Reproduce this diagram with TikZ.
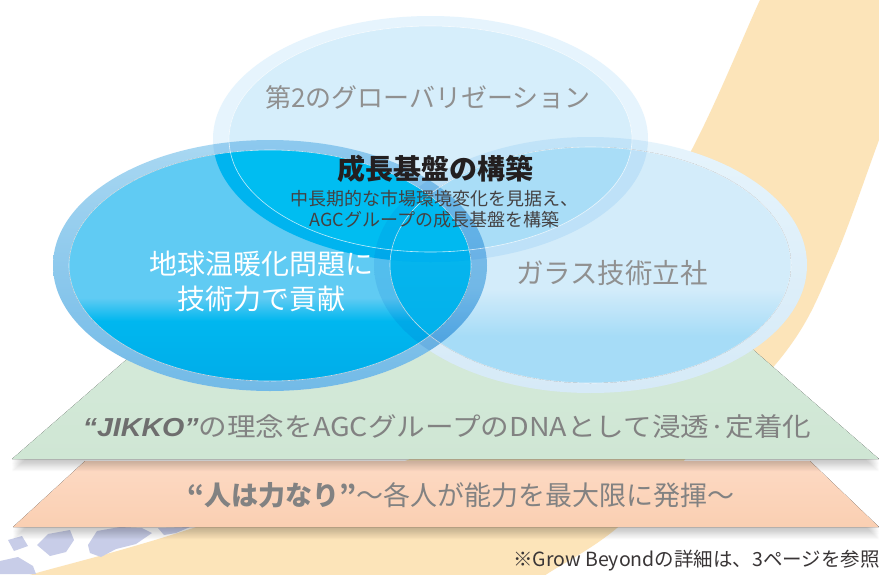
\documentclass[tikz,border=0pt]{standalone}
\usepackage{fontspec}
\usepackage{graphicx}
\newfontfamily\jp{Noto Sans CJK JP}
\newfontfamily\lat{Liberation Sans}
\usetikzlibrary{calc}

% palette
\definecolor{beige}{HTML}{FCE4B9}
\definecolor{mapblue}{HTML}{C8CDE8}
\definecolor{greenT}{HTML}{D6EBDB}
\definecolor{greenB}{HTML}{CFE6D4}
\definecolor{orangeT}{HTML}{FDDAC4}
\definecolor{orangeB}{HTML}{FACFB2}
\definecolor{topfill}{HTML}{D6EEFB}
\definecolor{topring}{HTML}{E6F4FD}
\definecolor{rT}{HTML}{D3ECFA}
\definecolor{rB}{HTML}{A6DCF7}
\definecolor{rringT}{HTML}{E6F4FC}
\definecolor{rringB}{HTML}{D6EAF7}
\definecolor{lT}{HTML}{60CBF3}
\definecolor{lM}{HTML}{00B7EF}
\definecolor{lB}{HTML}{00ADE9}
\definecolor{lringT}{HTML}{A9D8F2}
\definecolor{lringB}{HTML}{72BAE7}
\definecolor{tlcol}{HTML}{00BDF1}
\definecolor{trcol}{HTML}{A9DDF7}
\definecolor{lrT}{HTML}{0ABAF0}
\definecolor{lrB}{HTML}{00AFEA}
\definecolor{allcol}{HTML}{00B9F0}
\definecolor{softgray}{HTML}{909090}
\definecolor{basegray}{HTML}{828282}
\definecolor{inkdark}{HTML}{231F20}

% vertical shadings: light upper half, saturated lower half
\pgfdeclareverticalshading{leftshade}{100bp}{color(0bp)=(lB); color(25bp)=(lB); color(38bp)=(lM); color(43bp)=(lT); color(75bp)=(lT); color(100bp)=(lT)}
\pgfdeclareverticalshading{rightshade}{100bp}{color(0bp)=(rB); color(25bp)=(rB); color(35bp)=(rB); color(45bp)=(rT); color(75bp)=(rT); color(100bp)=(rT)}

\tikzset{
  ring/.style={even odd rule, blend mode=multiply},
  rimline/.style={draw=white, line width=0.6pt, opacity=0.75},
  layershadow/.style={fill=black, opacity=0.022},
  jptext/.style={inner sep=0pt, font=\jp},
}

\begin{document}
\begin{tikzpicture}[x=1pt,y=-1pt]
\useasboundingbox (0,0) rectangle (879,574);
\fill[white] (0,0) rectangle (879,574);

% ---- beige sweep in the background
\fill[beige] plot[smooth, tension=0.6] coordinates {(772,-20) (760,0) (690,153) (600,300) (450,440) (187,530) (33,574) (0,584)}
  -- (0,600) -- (500,600)
  -- plot[smooth, tension=0.6] coordinates {(520,592) (547,574) (617,528) (694,450) (787,350) (833,263) (879,140) (905,70)}
  -- (905,-20) -- cycle;

% ---- map fragments, bottom left
\fill[mapblue] (37,545) -- (48,534) -- (70,530) -- (74,540) -- (66,552) -- (50,556) -- cycle;
\fill[mapblue] (88,545) -- (97,531) -- (120,527) -- (142,528) -- (152,533) -- (136,544) -- (116,549) -- (101,557) -- (90,553) -- cycle;
\fill[mapblue] (158,528) -- (190,527) -- (176,533) -- (164,535) -- cycle;
\fill[mapblue] (0,561) -- (18,557) -- (33,566) -- (36,574) -- (0,574) -- cycle;
\fill[mapblue] (8,540) -- (22,536) -- (28,546) -- (14,551) -- cycle;

% ---- lower layer (orange) with its shadow
\coordinate (oTL) at (85,461);
\coordinate (oTR) at (810,461);
\coordinate (oBR) at (879,527);
\coordinate (oBL) at (13,527);
\foreach \k in {1,...,10}
  \fill[layershadow] ([yshift=-\k*1.2pt]oTL) -- ([yshift=-\k*1.2pt]oTR) -- ([yshift=-\k*1.2pt]oBR) -- ([yshift=-\k*1.2pt]oBL) -- cycle;
\fill[top color=orangeT, bottom color=orangeB] (oTL) -- (oTR) -- (oBR) -- (oBL) -- cycle;

% ---- middle layer (green) with its shadow
\coordinate (gTL) at (195,300);
\coordinate (gTR) at (696,300);
\coordinate (gBR) at (879,459);
\coordinate (gBL) at (12,459);
\foreach \k in {1,...,10}
  \fill[layershadow] ([yshift=-\k*1.2pt]gTL) -- ([yshift=-\k*1.2pt]gTR) -- ([yshift=-\k*1.2pt]gBR) -- ([yshift=-\k*1.2pt]gBL) -- cycle;
\fill[top color=greenT, bottom color=greenB] (gTL) -- (gTR) -- (gBR) -- (gBL) -- cycle;

% ---- three overlapping ellipses
\coordinate (cT) at (430.5,139);
\coordinate (cL) at (270,265.5);
\coordinate (cR) at (590.5,265);

% opaque base so the rims do not show the layers behind
\fill[white] (cT) ellipse [x radius=217.5pt, y radius=123pt];
\fill[white] (cR) ellipse [x radius=216.5pt, y radius=128pt];
\fill[white] (cL) ellipse [x radius=217pt, y radius=125.5pt];

% plain interiors
\fill[topfill] (cT) ellipse [x radius=201.5pt, y radius=113pt];
\fill[shading=rightshade] (cR) ellipse [x radius=200.5pt, y radius=118pt];
\fill[shading=leftshade] (cL) ellipse [x radius=201pt, y radius=115.5pt];

% overlap of top and right
\begin{scope}
  \clip (cT) ellipse [x radius=201.5pt, y radius=113pt];
  \fill[trcol] (cR) ellipse [x radius=200.5pt, y radius=118pt];
\end{scope}
% overlap of top and left
\begin{scope}
  \clip (cT) ellipse [x radius=217.5pt, y radius=123pt];
  \fill[tlcol] (cL) ellipse [x radius=201pt, y radius=115.5pt];
\end{scope}
% overlap of left and right
\begin{scope}
  \clip (cL) ellipse [x radius=201pt, y radius=115.5pt];
  \fill[top color=lrT, bottom color=lrB] (cR) ellipse [x radius=200.5pt, y radius=118pt];
\end{scope}
% overlap of all three
\begin{scope}
  \clip (cT) ellipse [x radius=217.5pt, y radius=123pt];
  \clip (cL) ellipse [x radius=201pt, y radius=115.5pt];
  \fill[allcol] (cR) ellipse [x radius=200.5pt, y radius=118pt];
\end{scope}

% glassy rims
\path[ring, fill=topring] (cT) ellipse [x radius=217.5pt, y radius=123pt] (cT) ellipse [x radius=201.5pt, y radius=113pt];
\path[ring, top color=rringT, bottom color=rringB] (cR) ellipse [x radius=216.5pt, y radius=128pt] (cR) ellipse [x radius=200.5pt, y radius=118pt];
\path[ring, top color=lringT, bottom color=lringB] (cL) ellipse [x radius=217pt, y radius=125.5pt] (cL) ellipse [x radius=201pt, y radius=115.5pt];

\draw[rimline] (cT) ellipse [x radius=201.5pt, y radius=113pt];
\draw[rimline] (cR) ellipse [x radius=200.5pt, y radius=118pt];
\draw[rimline] (cL) ellipse [x radius=201pt, y radius=115.5pt];

% ---- labels
\node[jptext, text=softgray, font=\jp\fontsize{26}{30}\selectfont] (glob) at (428,98) {第2のグローバリゼーション};
\node[jptext, text=inkdark, font=\jp\bfseries\fontsize{28}{32}\selectfont] (base) at (435,169) {成長基盤の構築};
\node[jptext, text=inkdark!85, font=\jp\fontsize{18}{21}\selectfont, align=center] (basesub) at (434.5,209.5) {中長期的な市場環境変化を見据え、\\AGCグループの成長基盤を構築};
\node[jptext, text=white, font=\jp\fontsize{28}{35}\selectfont, align=center] (eco) at (261.5,281) {地球温暖化問題に\\技術力で貢献};
\node[jptext, text=softgray, font=\jp\fontsize{27.5}{30}\selectfont] (glass) at (612,273.5) {ガラス技術立社};

\node[jptext, text=basegray, font=\jp\fontsize{26}{30}\selectfont] (jikko) at (447,427)
  {\scalebox{1.1}[1]{{\lat\bfseries\itshape\color{basegray!85!black}“JIKKO”}の理念をAGCグループのDNAとして浸透·定着化}};
\node[jptext, text=basegray, font=\jp\fontsize{27}{30}\selectfont] (people) at (461,495)
  {{\bfseries “人は力なり”}～各人が能力を最大限に発揮～};

\node[jptext, text=inkdark!90, font=\jp\fontsize{19.5}{22}\selectfont, anchor=east] (note) at (880,561)
  {※Grow Beyondの詳細は、3ページを参照};
\end{tikzpicture}
\end{document}
